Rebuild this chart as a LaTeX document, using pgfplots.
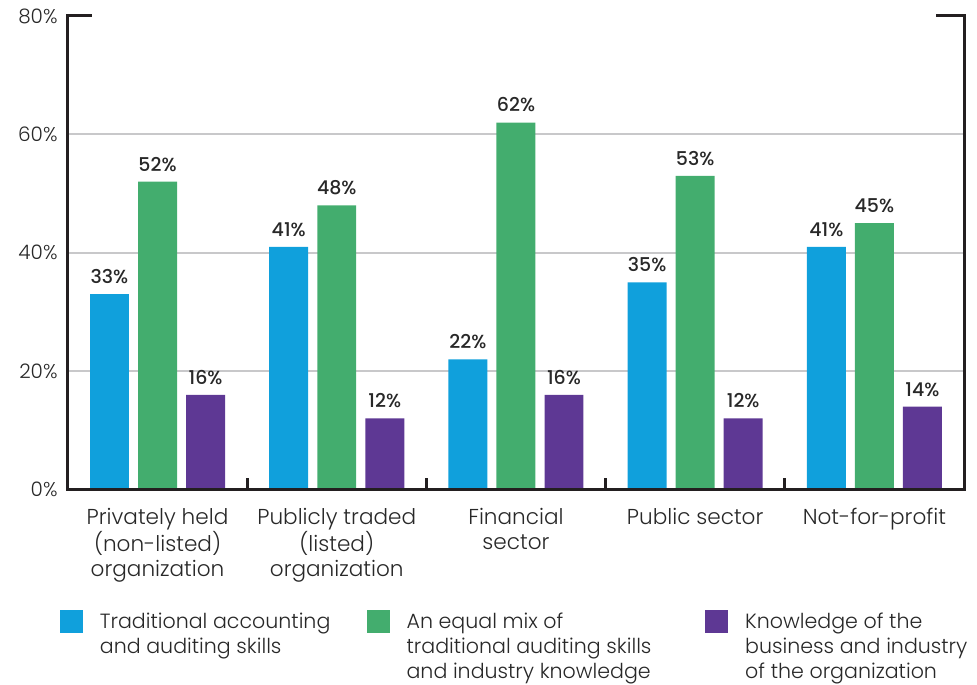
\documentclass[border=0pt]{standalone}
\usepackage{pgfplots}
\pgfplotsset{compat=1.18}
\usepackage{fontspec}
\setmainfont{Poppins}[UprightFont={* Light}, BoldFont={* Medium}]

\definecolor{cblue}{RGB}{16,160,220}
\definecolor{cgreen}{RGB}{67,173,110}
\definecolor{cpurple}{RGB}{94,56,148}
\definecolor{axiscol}{RGB}{35,31,32}
\definecolor{gridcol}{RGB}{200,200,202}
\definecolor{txt}{RGB}{40,40,40}

\pgfplotsset{
  sqlegend/.style={
    legend image code/.code={\fill[##1,draw=none] (0pt,-5.5pt) rectangle (11.5pt,6pt);}
  },
}

\begin{document}
\begin{tikzpicture}
\begin{axis}[
  at={(0,0)}, anchor=south west,
  scale only axis,
  width=448.5pt, height=237pt,
  ybar,
  bar width=0.2174,
  xmin=-0.5, xmax=4.5,
  ymin=0, ymax=80,
  axis line style={draw=none},
  tick pos=left,
  xtick={0,1,2,3,4},
  xticklabels={{Privately held\\(non-listed)\\organization},
               {Publicly traded\\(listed)\\organization},
               {Financial\\sector},
               {Public sector},
               {Not-for-profit}},
  xticklabel style={align=center, inner sep=0pt, yshift=-9pt,
    font=\fontsize{10.8}{12.6}\selectfont, text=txt},
  ytick={0,20,40,60,80},
  yticklabels={0\%,20\%,40\%,60\%,80\%},
  yticklabel style={inner sep=0pt, xshift=-5pt,
    font=\fontsize{10}{12.75}\selectfont, text=txt},
  major tick length=0pt,
  extra x ticks={0.5,1.5,2.5,3.5},
  extra x tick labels={},
  extra x tick style={tick align=inside, major tick length=6pt,
    major tick style={line width=1.5pt, draw=axiscol}},
  extra y ticks={20,40,60},
  extra y tick labels={},
  extra y tick style={grid=major, major tick length=0pt},
  grid style={line width=1pt, draw=gridcol},
  /pgf/number format/assume math mode=true,
  nodes near coords={\pgfmathprintnumber{\pgfplotspointmeta}\%},
  every node near coord/.append style={font=\fontsize{9.5}{12}\selectfont\bfseries,
    text=txt, inner sep=0pt, yshift=5pt},
  clip=false,
  legend columns=3,
  legend cell align=left,
  legend style={at={(0,0)}, anchor=north west, xshift=-4pt, yshift=-60.5pt,
    draw=none, inner sep=0pt, outer sep=0pt, column sep=0pt,
    font=\fontsize{10.3}{12.5}\selectfont, text=txt,
    nodes={inner sep=0pt},
    /tikz/every odd column/.append style={column sep=8.5pt}},
]
\addplot[fill=cblue, draw=none, bar shift=-0.268, sqlegend] coordinates {
  (0,33) (1,41) (2,22) (3,35) (4,41)};
\addlegendentry{\parbox[t]{133.5pt}{Traditional accounting\\and auditing skills}}
\addplot[fill=cgreen, draw=none, bar shift=0, sqlegend] coordinates {
  (0,52) (1,48) (2,62) (3,53) (4,45)};
\addlegendentry{\parbox[t]{149.5pt}{An equal mix of\\traditional auditing skills\\and industry knowledge}}
\addplot[fill=cpurple, draw=none, bar shift=0.268, sqlegend] coordinates {
  (0,16) (1,12) (2,16) (3,12) (4,14)};
\addlegendentry{\parbox[t]{116pt}{Knowledge of the\\business and industry\\of the organization}}

\draw[line width=1.5pt, draw=axiscol]
  ([xshift=12pt]rel axis cs:0,1) -- (rel axis cs:0,1) -- (rel axis cs:0,0)
  -- (rel axis cs:1,0) -- (rel axis cs:1,1) -- ([xshift=-14pt]rel axis cs:1,1);
\end{axis}
\path (-34pt,-97.5pt) rectangle (454.5pt,245pt);
\end{tikzpicture}
\end{document}
